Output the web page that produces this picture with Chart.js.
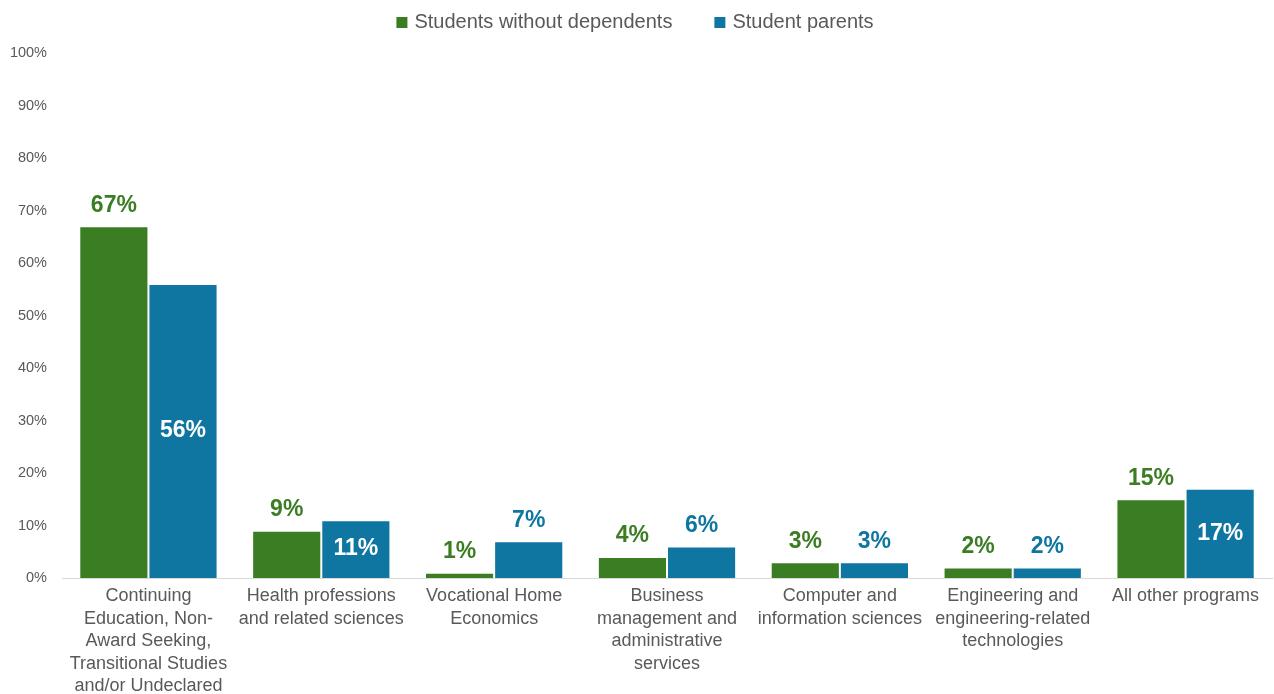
<!DOCTYPE html>
<html>
<head>
<meta charset="utf-8">
<script src="https://cdn.jsdelivr.net/npm/chart.js@4"></script>
<style>
  html, body { margin: 0; padding: 0; background: #fff; }
  #wrap { width: 1274px; height: 694px; }
</style>
</head>
<body>
<div id="wrap"><canvas id="bar-chart"></canvas></div>
<script>
const programs = [
  ["Continuing", "Education, Non-", "Award Seeking,", "Transitional Studies", "and/or Undeclared"],
  ["Health professions", "and related sciences"],
  ["Vocational Home", "Economics"],
  ["Business", "management and", "administrative", "services"],
  ["Computer and", "information sciences"],
  ["Engineering and", "engineering-related", "technologies"],
  ["All other programs"]
];
const withoutDependents = [67, 9, 1, 4, 3, 2, 15];
const studentParents = [56, 11, 7, 6, 3, 2, 17];
const yTicks = [0, 10, 20, 30, 40, 50, 60, 70, 80, 90, 100];

const GREEN = "#3B7D23";
const BLUE = "#0E76A0";
const FONT = "'Liberation Sans', Arial, sans-serif";

// value labels: green always above, blue inside the bar once it is tall enough
const barLabels = {
  id: "barLabels",
  afterDatasetsDraw(chart) {
    const ctx = chart.ctx;
    ctx.save();
    ctx.font = "bold 23px " + FONT;
    ctx.textAlign = "center";
    ctx.textBaseline = "middle";
    chart.data.datasets.forEach((ds, i) => {
      chart.getDatasetMeta(i).data.forEach((bar, j) => {
        const v = ds.data[j];
        const txt = Math.round(v) + "%";
        if (i === 1 && v >= 10) {
          ctx.fillStyle = "#fff";
          ctx.fillText(txt, bar.x, (bar.y + bar.base) / 2);
        } else {
          ctx.fillStyle = ds.backgroundColor;
          ctx.fillText(txt, bar.x, bar.y - 21);
        }
      });
    });
    ctx.restore();
  }
};

// legend row across the top
const topLegend = {
  id: "topLegend",
  afterDraw(chart) {
    const ctx = chart.ctx;
    ctx.save();
    ctx.font = "20px " + FONT;
    ctx.textBaseline = "middle";
    const box = 11, gap = 7, spacing = 42;
    const items = chart.data.datasets.map(ds => ({
      text: ds.label, color: ds.backgroundColor, w: ctx.measureText(ds.label).width
    }));
    let total = items.reduce((s, it) => s + box + gap + it.w, 0) + spacing * (items.length - 1);
    let x = 635 - total / 2;
    const y = 22;
    items.forEach(it => {
      ctx.fillStyle = it.color;
      ctx.fillRect(x, y - 5, box, box);
      ctx.fillStyle = "#595959";
      ctx.fillText(it.text, x + box + gap, y);
      x += box + gap + it.w + spacing;
    });
    ctx.restore();
  }
};

new Chart(document.getElementById("bar-chart"), {
  type: "bar",
  data: {
    labels: programs,
    datasets: [{
      label: "Students without dependents",
      data: withoutDependents,
      backgroundColor: GREEN,
      borderColor: "rgba(255,255,255,0.5)",
      borderWidth: 1,
      categoryPercentage: 0.8,
      barPercentage: 1.0
    }, {
      label: "Student parents",
      data: studentParents,
      backgroundColor: BLUE,
      borderColor: "rgba(255,255,255,0.5)",
      borderWidth: 1,
      categoryPercentage: 0.8,
      barPercentage: 1.0
    }]
  },
  options: {
    responsive: true,
    maintainAspectRatio: false,
    animation: false,
    layout: { padding: { top: 53, left: 0, right: 2, bottom: 0 } },
    plugins: {
      legend: { display: false },
      tooltip: { enabled: false }
    },
    scales: {
      x: {
        afterFit: axis => { axis.height = 116; },
        grid: { display: false, drawTicks: false },
        border: { display: true, color: "#D9D9D9", width: 1 },
        ticks: {
          color: "#595959",
          font: { family: FONT, size: 18, lineHeight: 1.25 },
          padding: 7,
          maxRotation: 0,
          autoSkip: false
        }
      },
      y: {
        min: 0,
        max: 100,
        afterBuildTicks: axis => { axis.ticks = yTicks.map(v => ({ value: v })); },
        afterFit: axis => { axis.width = 62; },
        grid: { display: false, drawTicks: false },
        border: { display: false },
        ticks: {
          color: "#595959",
          font: { family: FONT, size: 14.5 },
          padding: 15,
          callback: v => v + "%"
        }
      }
    }
  },
  plugins: [barLabels, topLegend]
});
</script>
</body>
</html>
